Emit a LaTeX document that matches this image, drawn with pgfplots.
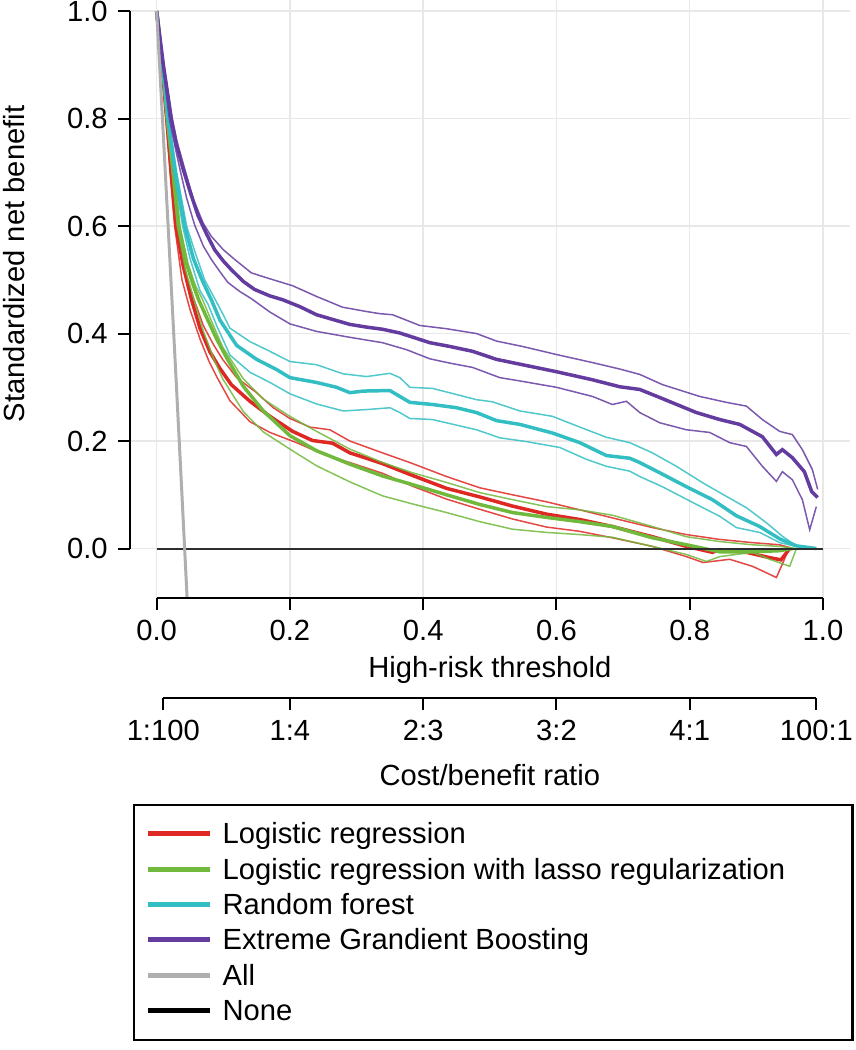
\documentclass[border=0pt]{standalone}
\usepackage{fontspec}
\setmainfont{Liberation Sans}
\usepackage{pgfplots}
\pgfplotsset{compat=1.18}
\usetikzlibrary{calc}

\definecolor{lrred}{RGB}{222,40,36}
\definecolor{lsgreen}{RGB}{112,185,60}
\definecolor{rfcyan}{RGB}{50,190,195}
\definecolor{xgpurple}{RGB}{100,60,160}
\definecolor{allgray}{RGB}{175,175,175}
\definecolor{nonecol}{RGB}{45,45,45}
\definecolor{gridcol}{RGB}{232,232,232}

\tikzset{
 thinline/.style={line width=0.45pt, opacity=0.85},
 thickline/.style={line width=1.05pt}
}

\begin{document}
\fontsize{8.75}{10.5}\selectfont
\begin{tikzpicture}
\begin{axis}[
 name=main,
 scale only axis,
 width=215.9pt, height=179.3pt,
 xmin=-0.04, xmax=1.04, ymin=-0.092, ymax=1.02,
 clip mode=individual,
 axis line style={draw=none},
 tick pos=left, tick align=outside,
 major tick length=3.6pt,
 tick style={black, line width=0.6pt},
 xtick={0,0.2,0.4,0.6,0.8,1},
 xticklabels={0.0,0.2,0.4,0.6,0.8,1.0},
 ytick={0,0.2,0.4,0.6,0.8,1},
 yticklabels={0.0,0.2,0.4,0.6,0.8,1.0},
 grid=major,
 major grid style={gridcol, line width=0.45pt},
 xlabel={High-risk threshold},
 ylabel={Standardized net benefit},
 every axis x label/.style={at={(axis description cs:0.5,-0.1205)}, anchor=center},
 every axis y label/.style={at={(axis description cs:-0.1611,0.559)}, rotate=90, anchor=center},
 legend cell align=left,
 legend image code/.code={\draw[#1] (0pt,0pt) -- (18.6pt,0pt); \path (21.6pt,0pt);},
 legend style={at={(axis description cs:0.0208,-0.3751)}, anchor=north west,
   draw=none, fill=none, inner xsep=0pt, inner ysep=0pt, row sep=4.1pt,
   nodes={inner sep=0pt, text height=6.3pt, text depth=0.2pt}},
]
% Logistic regression
\addplot[lrred, thinline, forget plot] coordinates {(0,1)(0.009,0.9)(0.016,0.8)(0.024,0.7)(0.031,0.6)(0.045,0.5)(0.06,0.45)(0.07,0.415)(0.085,0.38)(0.099,0.352)(0.12,0.318)(0.15,0.29)(0.175,0.262)(0.2,0.242)(0.23,0.226)(0.26,0.221)(0.29,0.2)(0.339,0.178)(0.38,0.16)(0.435,0.134)(0.485,0.113)(0.534,0.1)(0.585,0.087)(0.635,0.072)(0.684,0.057)(0.744,0.039)(0.795,0.026)(0.845,0.017)(0.894,0.011)(0.935,0.007)(0.955,0.0)};
\addplot[lrred, thinline, forget plot] coordinates {(0,1)(0.007,0.9)(0.014,0.8)(0.02,0.7)(0.027,0.6)(0.038,0.5)(0.05,0.445)(0.065,0.39)(0.078,0.35)(0.09,0.32)(0.11,0.275)(0.14,0.236)(0.17,0.216)(0.21,0.197)(0.249,0.176)(0.29,0.16)(0.339,0.14)(0.384,0.116)(0.435,0.092)(0.485,0.073)(0.534,0.055)(0.585,0.04)(0.635,0.032)(0.684,0.02)(0.744,0.004)(0.795,-0.015)(0.82,-0.026)(0.86,-0.02)(0.894,-0.033)(0.915,-0.045)(0.93,-0.054)(0.94,-0.026)(0.95,0.003)};
\addplot[lrred, thickline, forget plot] coordinates {(0,1)(0.008,0.9)(0.015,0.8)(0.022,0.7)(0.029,0.6)(0.04,0.525)(0.052,0.465)(0.065,0.41)(0.08,0.366)(0.095,0.335)(0.112,0.305)(0.14,0.274)(0.17,0.246)(0.204,0.218)(0.234,0.201)(0.264,0.196)(0.29,0.178)(0.315,0.168)(0.339,0.158)(0.384,0.136)(0.435,0.112)(0.485,0.096)(0.534,0.079)(0.585,0.064)(0.635,0.054)(0.684,0.041)(0.744,0.022)(0.795,0.004)(0.834,-0.007)(0.845,-0.002)(0.885,-0.007)(0.92,-0.017)(0.937,-0.021)(0.95,0.0)};
% Logistic regression with lasso
\addplot[lsgreen, thinline, forget plot] coordinates {(0,1)(0.01,0.9)(0.018,0.8)(0.027,0.7)(0.035,0.6)(0.047,0.53)(0.058,0.49)(0.069,0.463)(0.08,0.43)(0.099,0.375)(0.13,0.316)(0.16,0.278)(0.2,0.246)(0.24,0.218)(0.29,0.185)(0.339,0.16)(0.384,0.141)(0.435,0.123)(0.485,0.104)(0.534,0.091)(0.585,0.078)(0.635,0.072)(0.684,0.062)(0.744,0.041)(0.795,0.022)(0.845,0.013)(0.894,0.007)(0.935,0.004)(0.96,0.0)};
\addplot[lsgreen, thinline, forget plot] coordinates {(0,1)(0.008,0.9)(0.015,0.8)(0.023,0.7)(0.031,0.6)(0.043,0.52)(0.058,0.455)(0.07,0.405)(0.085,0.355)(0.099,0.316)(0.13,0.255)(0.16,0.217)(0.2,0.185)(0.24,0.154)(0.29,0.124)(0.339,0.098)(0.384,0.083)(0.435,0.067)(0.485,0.05)(0.534,0.036)(0.585,0.03)(0.635,0.026)(0.684,0.021)(0.744,0.004)(0.795,-0.011)(0.825,-0.024)(0.845,-0.015)(0.894,-0.007)(0.92,-0.02)(0.95,-0.033)(0.96,0.0)};
\addplot[lsgreen, thickline, forget plot] coordinates {(0,1)(0.009,0.9)(0.016,0.8)(0.025,0.7)(0.033,0.6)(0.045,0.53)(0.055,0.49)(0.063,0.463)(0.075,0.43)(0.09,0.39)(0.105,0.355)(0.13,0.302)(0.16,0.256)(0.2,0.21)(0.24,0.182)(0.29,0.157)(0.339,0.135)(0.384,0.119)(0.435,0.1)(0.485,0.082)(0.534,0.067)(0.585,0.058)(0.635,0.05)(0.684,0.041)(0.744,0.02)(0.795,0.007)(0.845,-0.006)(0.894,-0.006)(0.935,-0.004)(0.954,0.0)};
% Random forest
\addplot[rfcyan, thinline, forget plot] coordinates {(0,1)(0.01,0.9)(0.018,0.8)(0.03,0.7)(0.045,0.6)(0.058,0.55)(0.072,0.5)(0.088,0.463)(0.1,0.435)(0.11,0.41)(0.14,0.385)(0.165,0.37)(0.2,0.348)(0.24,0.342)(0.28,0.325)(0.315,0.32)(0.35,0.326)(0.365,0.318)(0.38,0.3)(0.414,0.298)(0.48,0.277)(0.504,0.273)(0.545,0.256)(0.594,0.246)(0.635,0.226)(0.675,0.207)(0.71,0.197)(0.744,0.178)(0.78,0.153)(0.82,0.122)(0.855,0.097)(0.885,0.076)(0.915,0.048)(0.939,0.023)(0.96,0.005)(0.99,0.0)};
\addplot[rfcyan, thinline, forget plot] coordinates {(0,1)(0.008,0.9)(0.016,0.8)(0.026,0.7)(0.039,0.6)(0.05,0.54)(0.065,0.48)(0.077,0.455)(0.09,0.415)(0.11,0.36)(0.14,0.328)(0.17,0.309)(0.2,0.288)(0.24,0.269)(0.28,0.256)(0.32,0.259)(0.35,0.262)(0.365,0.253)(0.38,0.242)(0.414,0.24)(0.48,0.221)(0.515,0.206)(0.555,0.199)(0.605,0.188)(0.645,0.166)(0.675,0.153)(0.71,0.144)(0.725,0.134)(0.759,0.115)(0.804,0.086)(0.845,0.06)(0.87,0.039)(0.905,0.03)(0.935,0.011)(0.96,0.004)(0.99,0.0)};
\addplot[rfcyan, thickline, forget plot] coordinates {(0,1)(0.009,0.9)(0.017,0.8)(0.028,0.7)(0.042,0.6)(0.055,0.54)(0.068,0.5)(0.082,0.463)(0.095,0.425)(0.12,0.378)(0.15,0.352)(0.18,0.333)(0.2,0.318)(0.24,0.309)(0.27,0.3)(0.29,0.29)(0.31,0.293)(0.35,0.294)(0.365,0.283)(0.38,0.272)(0.414,0.268)(0.45,0.262)(0.48,0.253)(0.51,0.238)(0.545,0.231)(0.594,0.215)(0.635,0.197)(0.675,0.173)(0.71,0.168)(0.725,0.16)(0.755,0.141)(0.795,0.115)(0.834,0.091)(0.87,0.061)(0.905,0.041)(0.935,0.018)(0.96,0.005)(0.99,0.0)};
% Extreme gradient boosting
\addplot[xgpurple, thinline, forget plot] coordinates {(0,1)(0.011,0.9)(0.023,0.8)(0.03,0.76)(0.039,0.72)(0.055,0.65)(0.07,0.605)(0.082,0.581)(0.1,0.556)(0.117,0.538)(0.142,0.513)(0.162,0.505)(0.175,0.5)(0.204,0.489)(0.24,0.469)(0.279,0.449)(0.315,0.441)(0.335,0.437)(0.354,0.435)(0.395,0.415)(0.435,0.409)(0.48,0.4)(0.51,0.386)(0.549,0.376)(0.6,0.361)(0.654,0.346)(0.695,0.334)(0.725,0.324)(0.759,0.305)(0.815,0.283)(0.855,0.272)(0.885,0.265)(0.909,0.24)(0.935,0.218)(0.954,0.212)(0.969,0.184)(0.984,0.147)(0.992,0.11)};
\addplot[xgpurple, thinline, forget plot] coordinates {(0,1)(0.009,0.9)(0.019,0.8)(0.028,0.745)(0.036,0.7)(0.045,0.652)(0.057,0.602)(0.07,0.563)(0.082,0.538)(0.095,0.515)(0.107,0.495)(0.125,0.478)(0.142,0.465)(0.17,0.44)(0.2,0.418)(0.24,0.404)(0.29,0.393)(0.339,0.383)(0.375,0.37)(0.41,0.353)(0.44,0.345)(0.474,0.337)(0.515,0.318)(0.549,0.311)(0.6,0.3)(0.654,0.283)(0.684,0.268)(0.705,0.274)(0.725,0.253)(0.755,0.234)(0.795,0.221)(0.83,0.216)(0.86,0.197)(0.885,0.19)(0.909,0.153)(0.93,0.125)(0.939,0.143)(0.954,0.128)(0.969,0.091)(0.98,0.035)(0.99,0.078)};
\addplot[xgpurple, thickline, forget plot] coordinates {(0,1)(0.005,0.95)(0.01,0.9)(0.016,0.85)(0.022,0.8)(0.03,0.75)(0.04,0.705)(0.05,0.665)(0.062,0.62)(0.075,0.585)(0.087,0.556)(0.1,0.535)(0.112,0.519)(0.13,0.497)(0.147,0.482)(0.17,0.47)(0.189,0.463)(0.215,0.45)(0.24,0.435)(0.265,0.426)(0.29,0.417)(0.315,0.412)(0.339,0.408)(0.365,0.401)(0.41,0.383)(0.44,0.376)(0.474,0.367)(0.51,0.352)(0.549,0.342)(0.6,0.329)(0.654,0.314)(0.695,0.301)(0.725,0.296)(0.755,0.281)(0.81,0.253)(0.845,0.24)(0.875,0.231)(0.909,0.208)(0.93,0.175)(0.939,0.184)(0.954,0.169)(0.972,0.143)(0.983,0.106)(0.992,0.095)};
% None and All
\addplot[nonecol, line width=0.6pt, forget plot] coordinates {(0,0)(1,0)};
\addplot[allgray, line width=0.9pt, forget plot] coordinates {(0,1)(0.01,0.77)(0.02,0.534)(0.03,0.295)(0.04,0.05)(0.05,-0.2)};

% axis lines, R style
\draw[black, line width=0.6pt] (axis cs:-0.04,0) -- (axis cs:-0.04,1);
\draw[black, line width=0.6pt] (axis cs:0,-0.092) -- (axis cs:1,-0.092);
% legend frame
\draw[black, line width=0.75pt] (axis description cs:0.00556,-0.3464) rectangle (axis description cs:1.00417,-0.7396);

\addlegendimage{lrred, line width=1.5pt}
\addlegendentry{Logistic regression}
\addlegendimage{lsgreen, line width=1.5pt}
\addlegendentry{Logistic regression with lasso regularization}
\addlegendimage{rfcyan, line width=1.5pt}
\addlegendentry{Random forest}
\addlegendimage{xgpurple, line width=1.5pt}
\addlegendentry{Extreme Grandient Boosting}
\addlegendimage{allgray, line width=1.5pt}
\addlegendentry{All}
\addlegendimage{black, line width=1.5pt}
\addlegendentry{None}
\end{axis}

\begin{axis}[
 at={($(main.south west)+(0pt,-30pt)$)}, anchor=south west,
 scale only axis,
 width=215.9pt, height=10pt,
 xmin=-0.04, xmax=1.04, ymin=0, ymax=1,
 clip=false,
 axis line style={draw=none},
 hide y axis,
 tick pos=left, tick align=outside,
 major tick length=3.6pt,
 tick style={black, line width=0.6pt},
 xtick={0.0099,0.2,0.4,0.6,0.8,0.9901},
 xticklabels={1:100,1:4,2:3,3:2,4:1,100:1},
 xlabel={Cost/benefit ratio},
 every axis x label/.style={at={(axis description cs:0.5,-2.31)}, anchor=center},
]
\draw[black, line width=0.6pt] (axis cs:0.0099,0) -- (axis cs:0.9901,0);
\end{axis}

\pgfresetboundingbox
\path[use as bounding box] ($(main.south west)+(-39pt,-135.6pt)$) rectangle ($(main.south west)+(217.5pt,179.4pt)$);
\end{tikzpicture}
\end{document}
